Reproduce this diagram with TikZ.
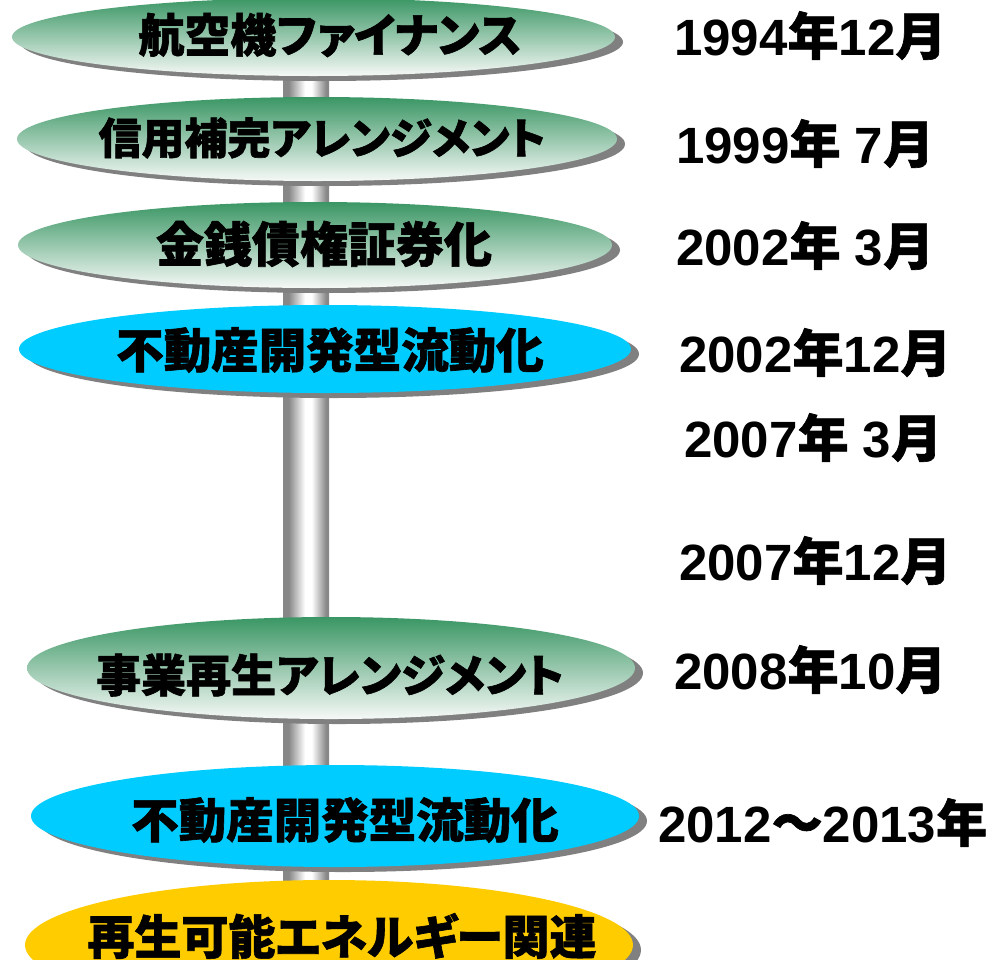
\documentclass[tikz,border=0pt]{standalone}
\usepackage{fontspec}
\setmainfont{Liberation Sans}
\newfontfamily\jp{Noto Sans CJK JP}[CharacterWidth=AlternateProportional, BoldFeatures={FakeBold=1.3}]
\usetikzlibrary{shapes.geometric,shadows,backgrounds}
\definecolor{grn}{RGB}{58,150,100}
\definecolor{grnlow}{RGB}{246,249,247}
\definecolor{cyanb}{RGB}{0,204,255}
\definecolor{yel}{RGB}{255,204,0}
\definecolor{shd}{RGB}{128,128,128}
\definecolor{barg}{RGB}{135,135,135}
\pgfdeclarehorizontalshading{barshade}{100bp}{color(0bp)=(barg); color(25bp)=(barg); color(31bp)=(barg); color(49bp)=(white); color(56bp)=(white); color(72bp)=(barg); color(100bp)=(barg)}
\tikzset{
  oval/.style={ellipse, inner sep=0pt, draw=none,
    drop shadow={shadow xshift=8pt, shadow yshift=-5pt, fill=shd, opacity=1}},
  greenoval/.style={oval, top color=grn, bottom color=grnlow},
  cyanoval/.style={oval, fill=cyanb},
  yeloval/.style={oval, fill=yel},
  lbl/.style={inner sep=0pt, font=\jp\bfseries\fontsize{#1}{#1}\selectfont},
  lbl/.default=46,
  datelbl/.style={anchor=base west, inner sep=0pt, font=\bfseries\fontsize{51}{51}\selectfont},
}
\begin{document}
\begin{tikzpicture}[x=1pt,y=-1pt]
\useasboundingbox (0,0) rectangle (992,959);
% bar
\coordinate (bartop) at (283,37);
\coordinate (barbot) at (329,945);
\shade[shading=barshade] (bartop) rectangle (barbot);
% ovals
\node[greenoval, minimum width=603pt, minimum height=78pt] (e1) at (313.5,37) {};
\node[greenoval, minimum width=600pt, minimum height=84pt] (e2) at (317,139) {};
\node[greenoval, minimum width=594pt, minimum height=86pt] (e3) at (315,245) {};
\node[cyanoval, minimum width=612pt, minimum height=88pt] (e4) at (325,349) {};
\node[greenoval, minimum width=608pt, minimum height=102pt] (e5) at (331,668) {};
\node[cyanoval, minimum width=608pt, minimum height=102pt] (e6) at (335,816) {};
\node[yeloval, minimum width=608pt, minimum height=130pt] (e7) at (329,945) {};
% labels
\node[lbl=46] (t1) at (330,35) {航空機ファイナンス};
\node[lbl=43] (t2) at (322,138) {信用補完アレンジメント};
\node[lbl=48] (t3) at (324,244) {金銭債権証券化};
\node[lbl=47.5] (t4) at (330,350) {不動産開発型流動化};
\node[lbl=45] (t5) at (330,675) {事業再生アレンジメント};
\node[lbl=47.5] (t6) at (345,820) {不動産開発型流動化};
\node[lbl=47] (t7) at (342,936) {再生可能エネルギー関連};
% dates
\node[datelbl] (d1) at (674,55) {1994{\jp 年}12{\jp 月}};
\node[datelbl] (d2) at (676,163) {1999{\jp 年} 7{\jp 月}};
\node[datelbl] (d3) at (676,265) {2002{\jp 年} 3{\jp 月}};
\node[datelbl] (d4) at (679,372) {2002{\jp 年}12{\jp 月}};
\node[datelbl] (d5) at (684,457) {2007{\jp 年} 3{\jp 月}};
\node[datelbl] (d6) at (679,580) {2007{\jp 年}12{\jp 月}};
\node[datelbl] (d7) at (674,689) {2008{\jp 年}10{\jp 月}};
\node[datelbl] (d8) at (658,842) {2012{\jp ～}2013{\jp 年}};
\end{tikzpicture}
\end{document}
